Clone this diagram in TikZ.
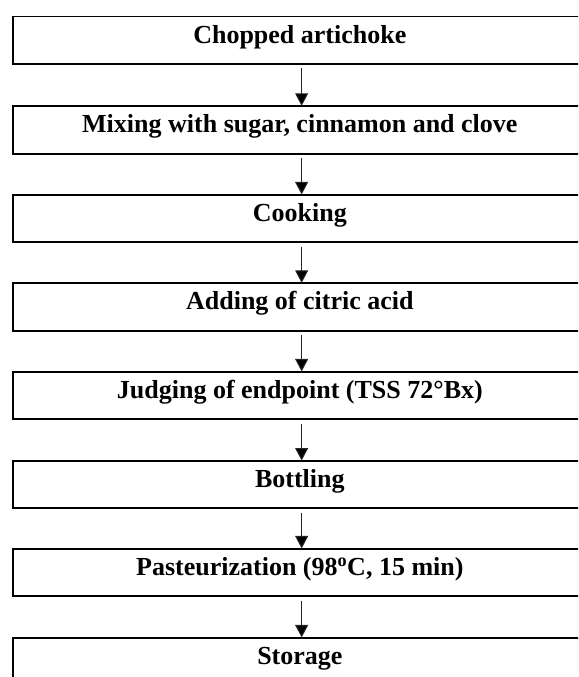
\documentclass[tikz,border=0pt]{standalone}
\usepackage{fontspec}
\setmainfont{Liberation Serif}
\usetikzlibrary{arrows.meta}
\tikzset{
  stagebox/.style={draw=black, line width=1.8pt, rectangle, minimum width=574.3pt, minimum height=47.4pt, inner sep=0pt, anchor=north},
  stagetext/.style={anchor=base, inner sep=0pt, font=\fontsize{26}{30}\selectfont\bfseries},
  flow/.style={draw=black!85, line width=1pt, -{Triangle[width=13pt,length=12.5pt,fill=black]}, shorten >=-0.5pt}
}
\begin{document}
\begin{tikzpicture}[x=1pt,y=-1pt]
\useasboundingbox (0,0) rectangle (578,677);
\clip (0,0) rectangle (578,677);
\node[stagebox] (b1) at (299.85,15.7) {};
\node[stagebox] (b2) at (299.85,105.3) {};
\node[stagebox] (b3) at (299.85,193.9) {};
\node[stagebox] (b4) at (299.85,282.3) {};
\node[stagebox] (b5) at (299.85,370.9) {};
\node[stagebox] (b6) at (299.85,460.0) {};
\node[stagebox] (b7) at (299.85,547.9) {};
\node[stagebox] (b8) at (299.85,636.9) {};
\node[stagetext] (t1) at ([yshift=-27.5pt]b1.north) {Chopped artichoke};
\node[stagetext] (t2) at ([yshift=-27.5pt]b2.north) {Mixing with sugar, cinnamon and clove};
\node[stagetext] (t3) at ([yshift=-27.5pt]b3.north) {Cooking};
\node[stagetext] (t4) at ([yshift=-27.5pt]b4.north) {Adding of citric acid};
\node[stagetext] (t5) at ([yshift=-27.5pt]b5.north) {Judging of endpoint (TSS 72°Bx)};
\node[stagetext] (t6) at ([yshift=-27.5pt]b6.north) {Bottling};
\node[stagetext] (t7) at ([yshift=-27.5pt]b7.north) {Pasteurization (98\textsuperscript{o}C, 15 min)};
\node[stagetext] (t8) at ([yshift=-27.5pt]b8.north) {Storage};
\foreach \a/\b in {b1/b2,b2/b3,b3/b4,b4/b5,b5/b6,b6/b7,b7/b8}{
  \draw[flow] ([xshift=1.8pt,yshift=-3.5pt]\a.south) -- ([xshift=1.8pt]\b.north);
}
\end{tikzpicture}
\end{document}
